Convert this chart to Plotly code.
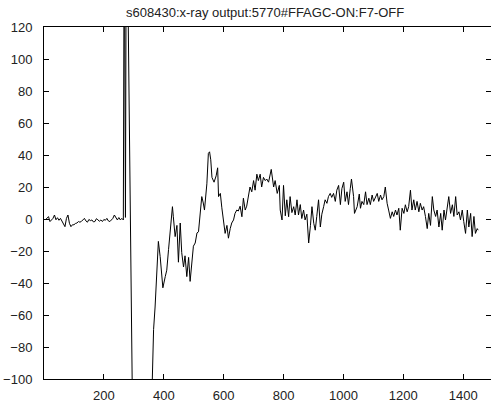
import plotly.graph_objects as go

# sample positions (x) and signal values (y)
x_base = [5, 10, 15, 20, 25, 30, 35, 40, 45, 50, 55, 60, 65, 70, 75, 80, 85, 90, 95, 100,
          105, 110, 115, 120, 125, 130, 135, 140, 145, 150, 155, 160, 165, 170, 175, 180,
          185, 190, 195, 200, 205, 210, 215, 220, 225, 230, 235, 240, 245, 250, 255, 260, 265]
y_base = [-0.5, 0.5, 1.5, -1.6, -0.5, 0.4, 2.5, -0.5, 0.8, -0.8, 0.4, -1.6, -3.7, -4.8, 0.4,
          2.5, -2.7, -4.8, -3.6, -3.6, -2.8, -2.5, -1.6, -2.0, -1.5, -0.6, 0.4, -1.2, -2.0,
          -0.3, -1.0, -0.6, -1.8, -1.6, 0.2, -0.5, -1.4, -0.6, -1.6, -0.3, -0.8, 0.4, -1.2,
          -1.6, -0.5, 0.4, 2.5, 0.8, -0.6, 0.9, -0.6, 0.4, -0.6]

x_burst = [268, 272, 275, 281, 295, 355]
y_burst = [200, 1, 200, 130, -110, -150]

x_rise = [360, 366, 371, 375, 379, 382, 388, 394, 397, 405, 410, 416, 421, 429, 432, 438,
          444, 449, 455, 460, 466, 471, 477, 483, 488, 494, 499, 505, 511, 516, 522, 527,
          532, 536, 544, 549, 553, 557, 561, 568, 575, 580, 583, 589, 594, 600, 605, 611,
          616, 622, 627, 633, 638, 644, 649, 655, 661, 666, 672, 677, 683, 688, 694, 700,
          705, 711, 716, 722, 727, 733, 739, 744, 750, 756, 759, 767, 772, 779, 786, 789, 795]
y_rise = [-105, -69, -55, -38, -19, -14, -23.5, -40, -43, -36, -32, -19, -7, 7.7, 1.4, -11,
          -4, -27, -2.5, -21, -30, -23, -36, -24, -39, -27, -17, -15, -8.7, -8, 3.5, 14,
          10, 5.6, 22, 41, 42, 37, 26, 23, 27, 32, 14, 16, 7, -2.5, -9, -4,
          -12, -6, -2.5, -0.6, 3.5, 5.6, 5, 8, 1.4, 13, 5.6, 8, 16, 20, 17, 24,
          18, 28, 24, 28, 20, 26, 24, 25, 23, 29, 31, 20, 24, 16, 21, 5.6, -0.6]

x_tail = [800, 806, 811, 817, 822, 828, 834, 839, 845, 850, 856, 861, 867, 872, 878, 884,
          890, 895, 901, 906, 911, 917, 923, 928, 934, 939, 945, 950, 956, 961, 967, 973,
          978, 984, 990, 995, 1001, 1006, 1012, 1017, 1023, 1027, 1034, 1037, 1046, 1053,
          1057, 1062, 1068, 1074, 1079, 1085, 1090, 1096, 1101, 1107, 1113, 1118, 1124,
          1129, 1135, 1140, 1146, 1151, 1157, 1163, 1168, 1174, 1179, 1185, 1190, 1196,
          1202, 1207, 1213, 1218, 1224, 1229, 1235, 1240, 1246, 1252, 1257, 1263, 1268,
          1274, 1280, 1285, 1291, 1297, 1302, 1308, 1313, 1319, 1325, 1330, 1336, 1341,
          1347, 1352, 1358, 1364, 1369, 1375, 1380, 1386, 1391, 1397, 1402, 1408, 1414,
          1419, 1425, 1430, 1436, 1441, 1447, 1450]
y_tail = [21, 2, 12, 1.4, 14, 4, 7.7, 2.5, 12, 2.5, 9, 0.3, 5.6, -0.6, 3, -15,
          -4, 7.7, -2.7, -7, 1.6, 12, -5, 3, 7.7, 12, 9.8, 14, 16, 13.5, 16, 11,
          18, 21, 9, 19, 23, 11, 17, 9, 19, 25, 14, 3.5, 7.7, 15.6,
          6.7, 11, 9, 17, 9, 13, 9, 15, 11, 14, 16, 11, 15,
          12, 14, 20, 9.8, 5.6, 0.4, 4.5, 1.6, 5.6, 2.5, 6.7, -7, 6.7,
          3.5, 8.9, 4.5, 7.7, 18, 5.6, 12, 5.6, 11, 4.5, 9.8, 5.6, 7.7,
          1.6, -6, 3.5, -4, 14, 5.6, 1.6, 5.6, -5, 3.5, -7, 5.6, -0.6,
          7.7, 14, 3.5, 8.9, 1.6, 14, 2.5, 4.5, -0.6, 5.6, -1.6, -9, 5.6,
          -5, 3.5, -11, 1.6, -9, -6, -7]

x_ticks = [200, 400, 600, 800, 1000, 1200, 1400]
y_ticks = [-100, -80, -60, -40, -20, 0, 20, 40, 60, 80, 100, 120]
title_text = "s608430:x-ray output:5770#FFAGC-ON:F7-OFF"

xs = x_base + x_burst + x_rise + x_tail
ys = y_base + y_burst + y_rise + y_tail

font_fam = "Liberation Sans Narrow, Liberation Sans, Arial, sans-serif"

fig = go.Figure()
fig.add_trace(go.Scatter(x=xs, y=ys, mode="lines",
                         line=dict(color="black", width=1), hoverinfo="skip"))

axis_common = dict(showline=True, linecolor="black", linewidth=1, mirror="ticks",
                   ticks="inside", ticklen=5, tickcolor="black", showgrid=False,
                   zeroline=False, tickfont=dict(family=font_fam, size=13, color="#222"))

fig.update_layout(
    width=491, height=403,
    margin=dict(l=44, r=0, t=27, b=24),
    paper_bgcolor="white", plot_bgcolor="white",
    showlegend=False,
    title=dict(text=title_text, x=0.54, xanchor="center", y=0.969, yanchor="middle",
               font=dict(family=font_fam, size=13, color="#222")),
    xaxis=dict(range=[0, 1493], tickvals=x_ticks, ticklabelstandoff=4, **axis_common),
    yaxis=dict(range=[-100, 120], tickvals=y_ticks, ticklabelstandoff=8, **axis_common),
)

fig.write_html("out.html")
